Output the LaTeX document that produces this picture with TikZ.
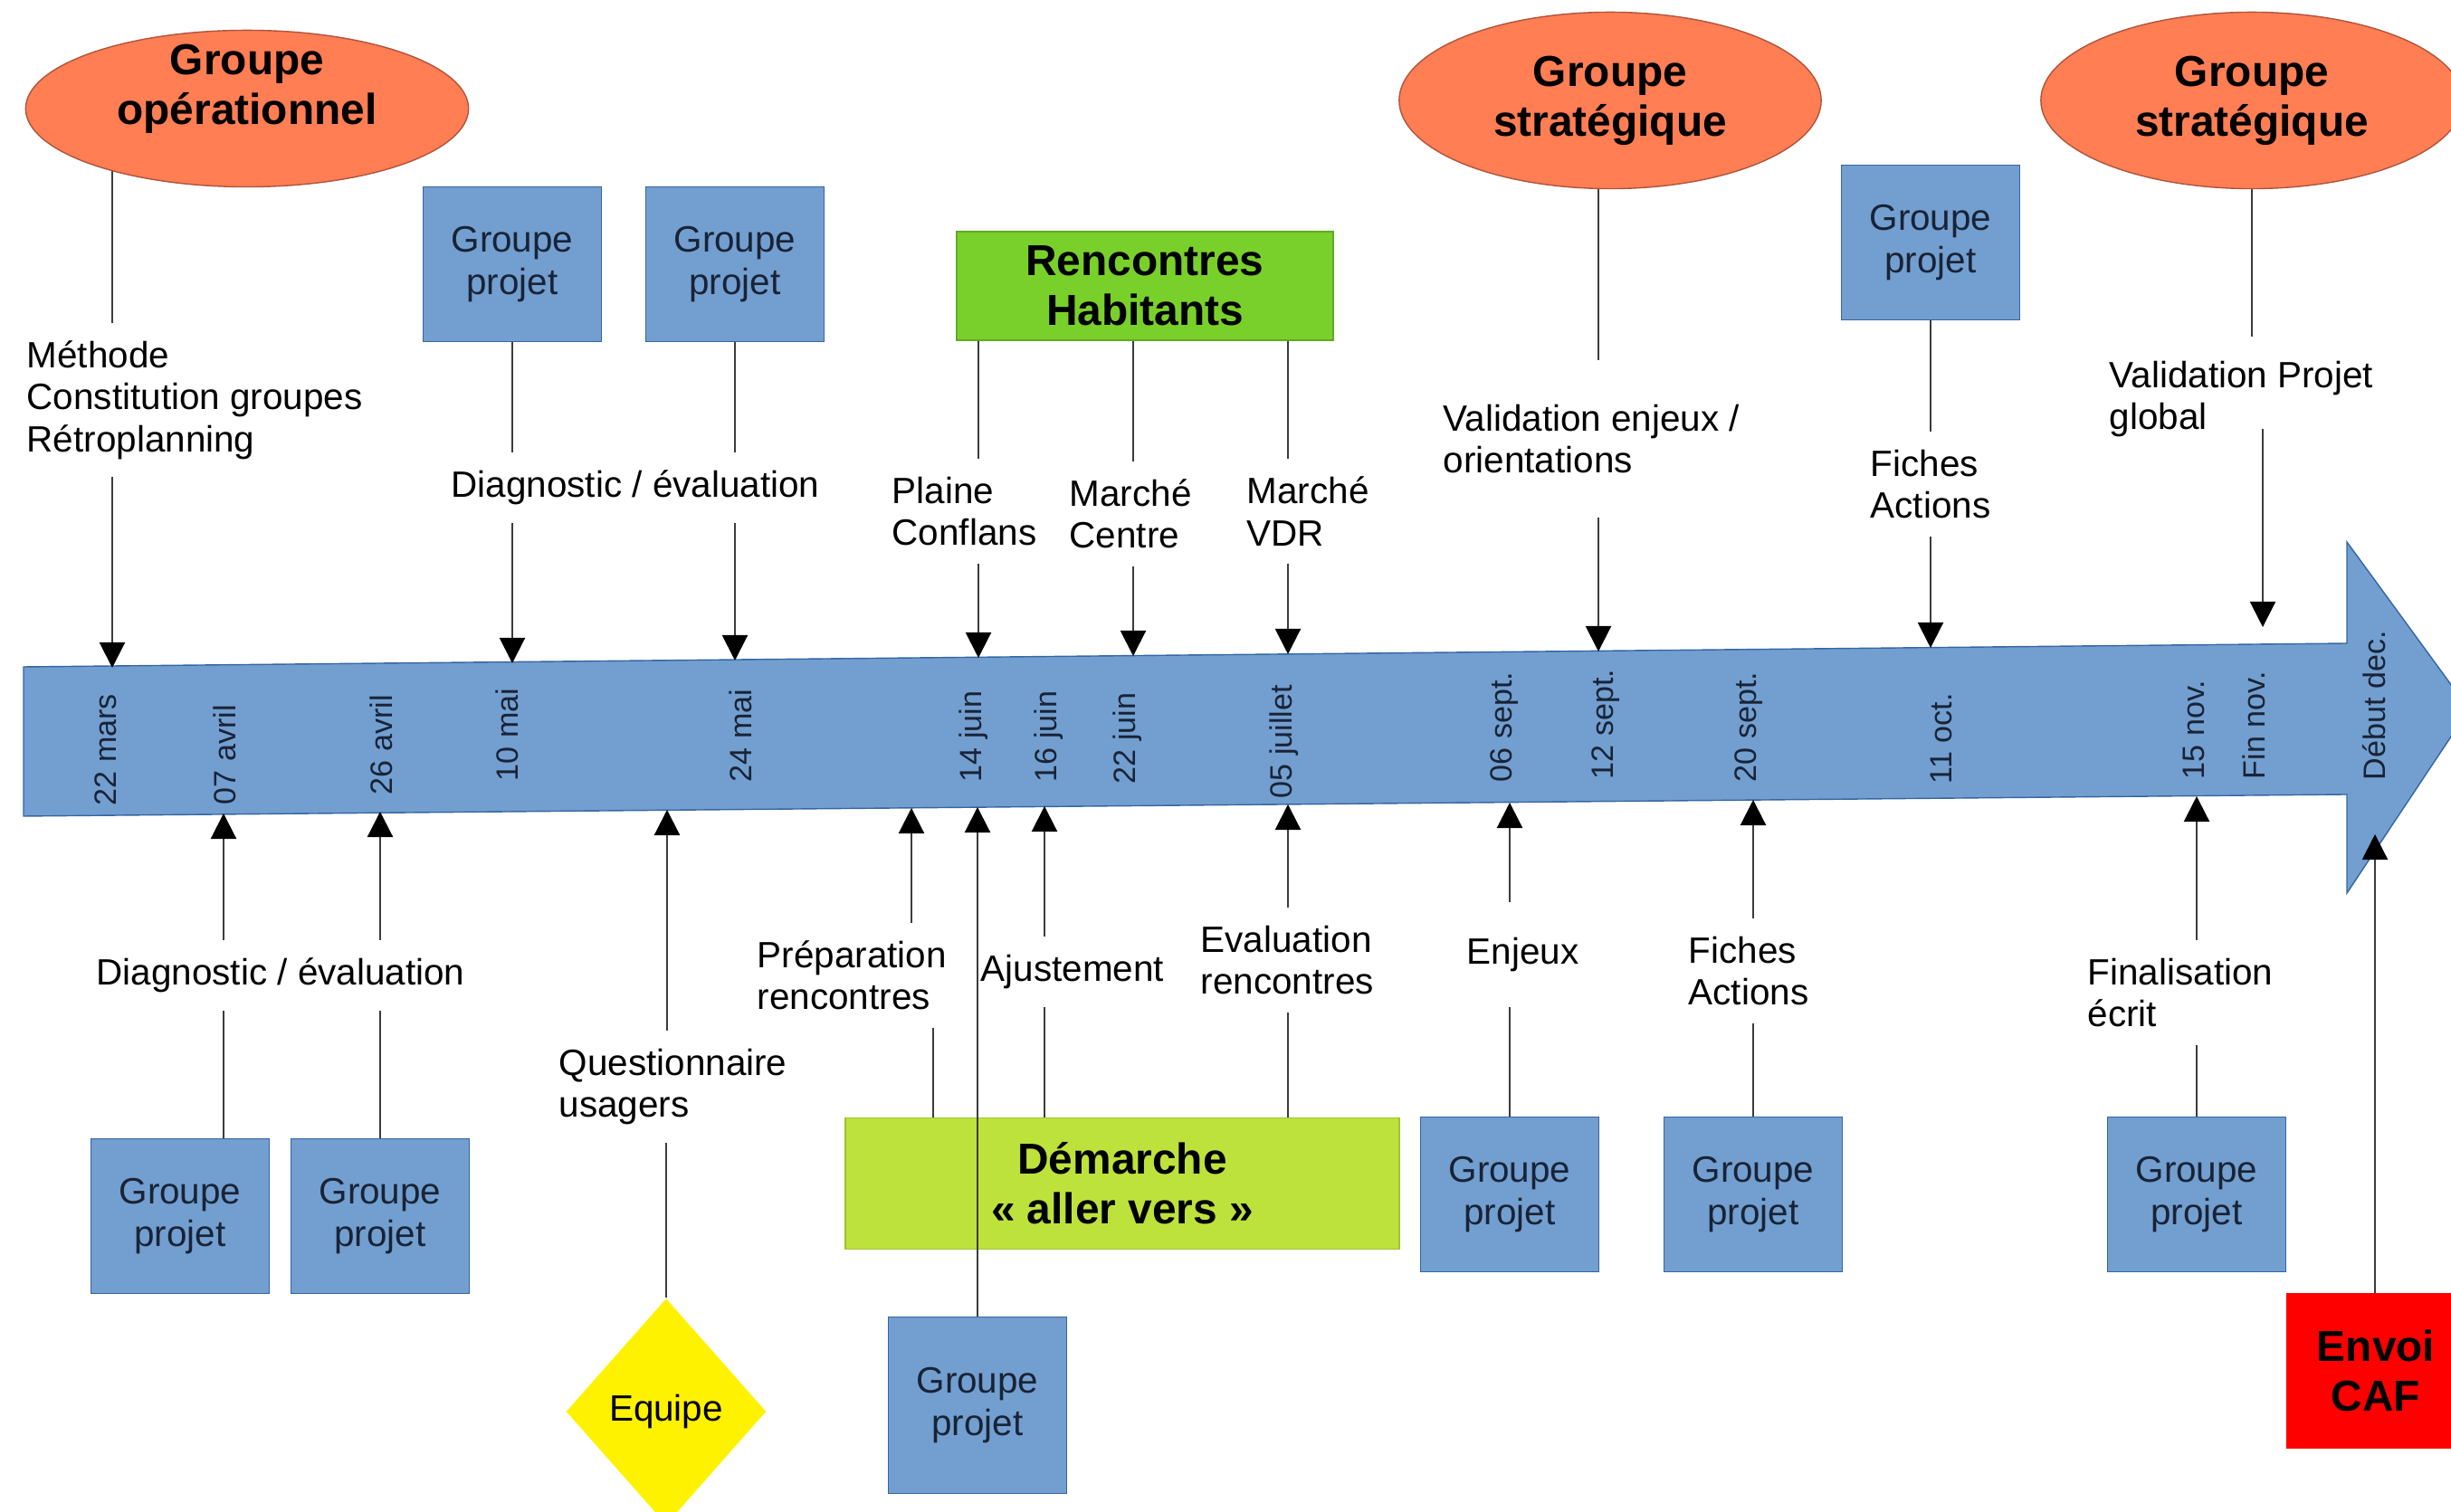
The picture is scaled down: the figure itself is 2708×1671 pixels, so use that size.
\documentclass[tikz,border=0pt]{standalone}
\usepackage{fontspec}
\setmainfont{Liberation Sans}
\usetikzlibrary{arrows.meta,shapes.geometric,backgrounds}

\definecolor{gpblue}{HTML}{729FCF}
\definecolor{gpline}{HTML}{3465A4}
\definecolor{grporange}{RGB}{255,126,84}
\definecolor{grpline}{RGB}{175,85,60}
\definecolor{rhgreen}{RGB}{122,208,42}
\definecolor{rhline}{RGB}{95,170,35}
\definecolor{demgreen}{RGB}{190,226,60}
\definecolor{demline}{RGB}{160,195,50}
\definecolor{darktext}{RGB}{25,35,55}
\definecolor{linkgrey}{RGB}{60,60,60}

\begin{document}
\begin{tikzpicture}[x=0.01cm, y=-0.01cm,
        every node/.style={inner sep=0pt, font=\fontsize{11.5}{13.2}\selectfont},
        head/.style={align=center, font=\fontsize{13.6}{15.7}\selectfont\bfseries},
        grp/.style={ellipse, head, draw=grpline, fill=grporange, line width=0.4pt},
        proj/.style={draw=gpline, fill=gpblue, line width=0.4pt, align=center,
            text=darktext, minimum width=1.97cm, minimum height=1.71cm},
        note/.style={align=left, inner ysep=0.19cm},
        date/.style={rotate=90, anchor=west, text=darktext,
            font=\fontsize{9.7}{11}\selectfont},
        link/.style={draw=linkgrey, line width=0.6pt},
        arr/.style={link, -{Triangle[length=0.28cm, width=0.28cm, color=black]}}]

    \useasboundingbox (0,0) rectangle (2708,1671);

    % la frise
    \draw[fill=gpblue, draw=gpline, line width=0.4pt] (26,737) -- (2593,711) -- (2593,599)
        -- (2728,784) -- (2593,987) -- (2593,878) -- (26,902) -- cycle;

    \node[date] (d01) at (117,891) {22 mars};
    \node[date] (d02) at (248,890) {07 avril};
    \node[date] (d03) at (421,879) {26 avril};
    \node[date] (d04) at (560,864) {10 mai};
    \node[date] (d05) at (818,865) {24 mai};
    \node[date] (d06) at (1076,865) {14 juin};
    \node[date] (d07) at (1159,865) {16 juin};
    \node[date] (d08) at (1246,867) {22 juin};
    \node[date] (d09) at (1419,883) {05 juillet};
    \node[date] (d10) at (1662,865) {06 sept.};
    \node[date] (d11) at (1774,862) {12 sept.};
    \node[date] (d12) at (1932,865) {20 sept.};
    \node[date] (d13) at (2145,867) {11 oct.};
    \node[date] (d14) at (2424,862) {15 nov.};
    \node[date] (d15) at (2490,862) {Fin nov.};
    \node[date] (d16) at (2623,863) {Début dec.};

    \coordinate (t1) at (124,738);
    \coordinate (t2) at (566,733);
    \coordinate (t3) at (812,730);
    \coordinate (t4) at (1081,727);
    \coordinate (t5) at (1252,725);
    \coordinate (t6) at (1423,723);
    \coordinate (t7) at (1766,720);
    \coordinate (t8) at (2133,716);
    \coordinate (t9) at (2500,693);
    \coordinate (b1) at (247,899);
    \coordinate (b2) at (420,897);
    \coordinate (b3) at (737,895);
    \coordinate (b4) at (1007,893);
    \coordinate (b5) at (1080,892);
    \coordinate (b6) at (1154,891);
    \coordinate (b7) at (1423,889);
    \coordinate (b8) at (1668,887);
    \coordinate (b9) at (1937,884);
    \coordinate (b10) at (2427,880);
    \coordinate (b11) at (2624,922);
    \coordinate (pf) at (1031,1235);

    % au-dessus
    \node[grp, align=none, minimum width=4.89cm, minimum height=1.73cm] (op) at (273,120)
        {\raisebox{0.08cm}[0.4cm][0.4cm]{\begin{tabular}{@{}c@{}}Groupe\\opérationnel\end{tabular}}};
    \node[grp, minimum width=4.66cm, minimum height=1.95cm] (strat1) at (1779,111) {Groupe\\stratégique};
    \node[grp, minimum width=4.66cm, minimum height=1.95cm] (strat2) at (2488,111) {Groupe\\stratégique};
    \node[proj] (gp1) at (566,292) {Groupe\\projet};
    \node[proj] (gp2) at (812,292) {Groupe\\projet};
    \node[proj] (gp3) at (2133,268) {Groupe\\projet};
    \node[head, draw=rhline, fill=rhgreen, line width=0.4pt, minimum width=4.16cm, minimum height=1.2cm] (rh) at (1265,316) {Rencontres\\Habitants};

    \node[note, anchor=west] (meth) at (29,442) {Méthode\\Constitution groupes\\Rétroplanning};
    \node[note, align=center] (diag1) at (702,539) {Diagnostic / évaluation};
    \node[note, anchor=west] (plaine) at (985,565) {Plaine\\Conflans};
    \node[note, anchor=west] (centre) at (1181,568) {Marché\\Centre};
    \node[note, anchor=west] (vdr) at (1377,565) {Marché\\VDR};
    \node[note, anchor=west, inner ysep=0.48cm] (valid1) at (1594,485) {Validation enjeux /\\orientations};
    \node[note, anchor=west] (fiches1) at (2066,535) {Fiches\\Actions};
    \node[note, anchor=west, inner ysep=0.26cm] (valid2) at (2330,441) {Validation Projet\\global};

    % en dessous
    \node[proj] (gp4) at (199,1344) {Groupe\\projet};
    \node[proj] (gp5) at (420,1344) {Groupe\\projet};
    \node[diamond, fill=yellow, minimum width=2.21cm, minimum height=2.5cm] (equipe) at (736,1560) {Equipe};
    \node[head, draw=demline, fill=demgreen, line width=0.4pt, minimum width=6.12cm, minimum height=1.45cm] (dem) at (1240,1308) {Démarche\\«~aller vers~»};
    \node[proj, minimum height=1.95cm] (gp6) at (1080,1553) {Groupe\\projet};
    \node[proj] (gp7) at (1668,1320) {Groupe\\projet};
    \node[proj] (gp8) at (1937,1320) {Groupe\\projet};
    \node[proj] (gp9) at (2427,1320) {Groupe\\projet};
    \node[head, fill=red, minimum width=1.97cm, minimum height=1.71cm] (caf) at (2625,1515) {Envoi\\CAF};

    \node[note, align=center] (diag2) at (310,1078) {Diagnostic / évaluation};
    \node[note, anchor=west] (quest) at (617,1201) {Questionnaire\\usagers};
    \node[note, anchor=west] (prep) at (836,1078) {Préparation\\rencontres};
    \node[note, anchor=west] (ajust) at (1083,1074) {Ajustement};
    \node[note, anchor=west] (evalr) at (1326,1061) {Evaluation\\rencontres};
    \node[note, anchor=west, inner ysep=0.38cm] (enjeux) at (1620,1055) {Enjeux};
    \node[note, anchor=west] (fiches2) at (1865,1073) {Fiches\\Actions};
    \node[note, anchor=west] (final) at (2306,1097) {Finalisation\\écrit};

    \begin{pgfonlayer}{background}
        \draw[link] (op.center -| t1) -- (meth.north -| t1);
        \draw[link] (strat1.center -| t7) -- (valid1.north -| t7);
        \draw[link] (strat2) -- (valid2.north -| strat2);
    \end{pgfonlayer}

    \draw[arr] (meth.south -| t1) -- (t1);
    \draw[link] (gp1.south) -- (diag1.north -| gp1);
    \draw[arr] (diag1.south -| t2) -- (t2);
    \draw[link] (gp2.south) -- (diag1.north -| gp2);
    \draw[arr] (diag1.south -| t3) -- (t3);
    \draw[link] (rh.south -| t4) -- (plaine.north -| t4);
    \draw[arr] (plaine.south -| t4) -- (t4);
    \draw[link] (rh.south -| t5) -- (centre.north -| t5);
    \draw[arr] (centre.south -| t5) -- (t5);
    \draw[link] (rh.south -| t6) -- (vdr.north -| t6);
    \draw[arr] (vdr.south -| t6) -- (t6);
    \draw[arr] (valid1.south -| t7) -- (t7);
    \draw[link] (gp3.south) -- (fiches1.north -| gp3);
    \draw[arr] (fiches1.south -| t8) -- (t8);
    \draw[arr, shorten <=-0.36cm] (valid2.south -| t9) -- (t9);

    \draw[link] (gp4.north -| b1) -- (diag2.south -| b1);
    \draw[arr] (diag2.north -| b1) -- (b1);
    \draw[link] (gp5.north -| b2) -- (diag2.south -| b2);
    \draw[arr] (diag2.north -| b2) -- (b2);
    \draw[link] (equipe.north) -- (quest.south -| equipe);
    \draw[arr] (quest.north -| b3) -- (b3);
    \draw[link] (pf) -- (prep.south -| pf);
    \draw[arr] (prep.north -| b4) -- (b4);
    \draw[arr] (gp6.north) -- (b5);
    \draw[link] (dem.north -| b6) -- (ajust.south -| b6);
    \draw[arr] (ajust.north -| b6) -- (b6);
    \draw[link] (dem.north -| b7) -- (evalr.south -| b7);
    \draw[arr] (evalr.north -| b7) -- (b7);
    \draw[link] (gp7.north) -- (enjeux.south -| gp7);
    \draw[arr] (enjeux.north -| b8) -- (b8);
    \draw[link] (gp8.north) -- (fiches2.south -| gp8);
    \draw[arr] (fiches2.north -| b9) -- (b9);
    \draw[link] (gp9.north) -- (final.south -| gp9);
    \draw[arr] (final.north -| b10) -- (b10);
    \draw[arr] (caf.north -| b11) -- (b11);
\end{tikzpicture}
\end{document}
